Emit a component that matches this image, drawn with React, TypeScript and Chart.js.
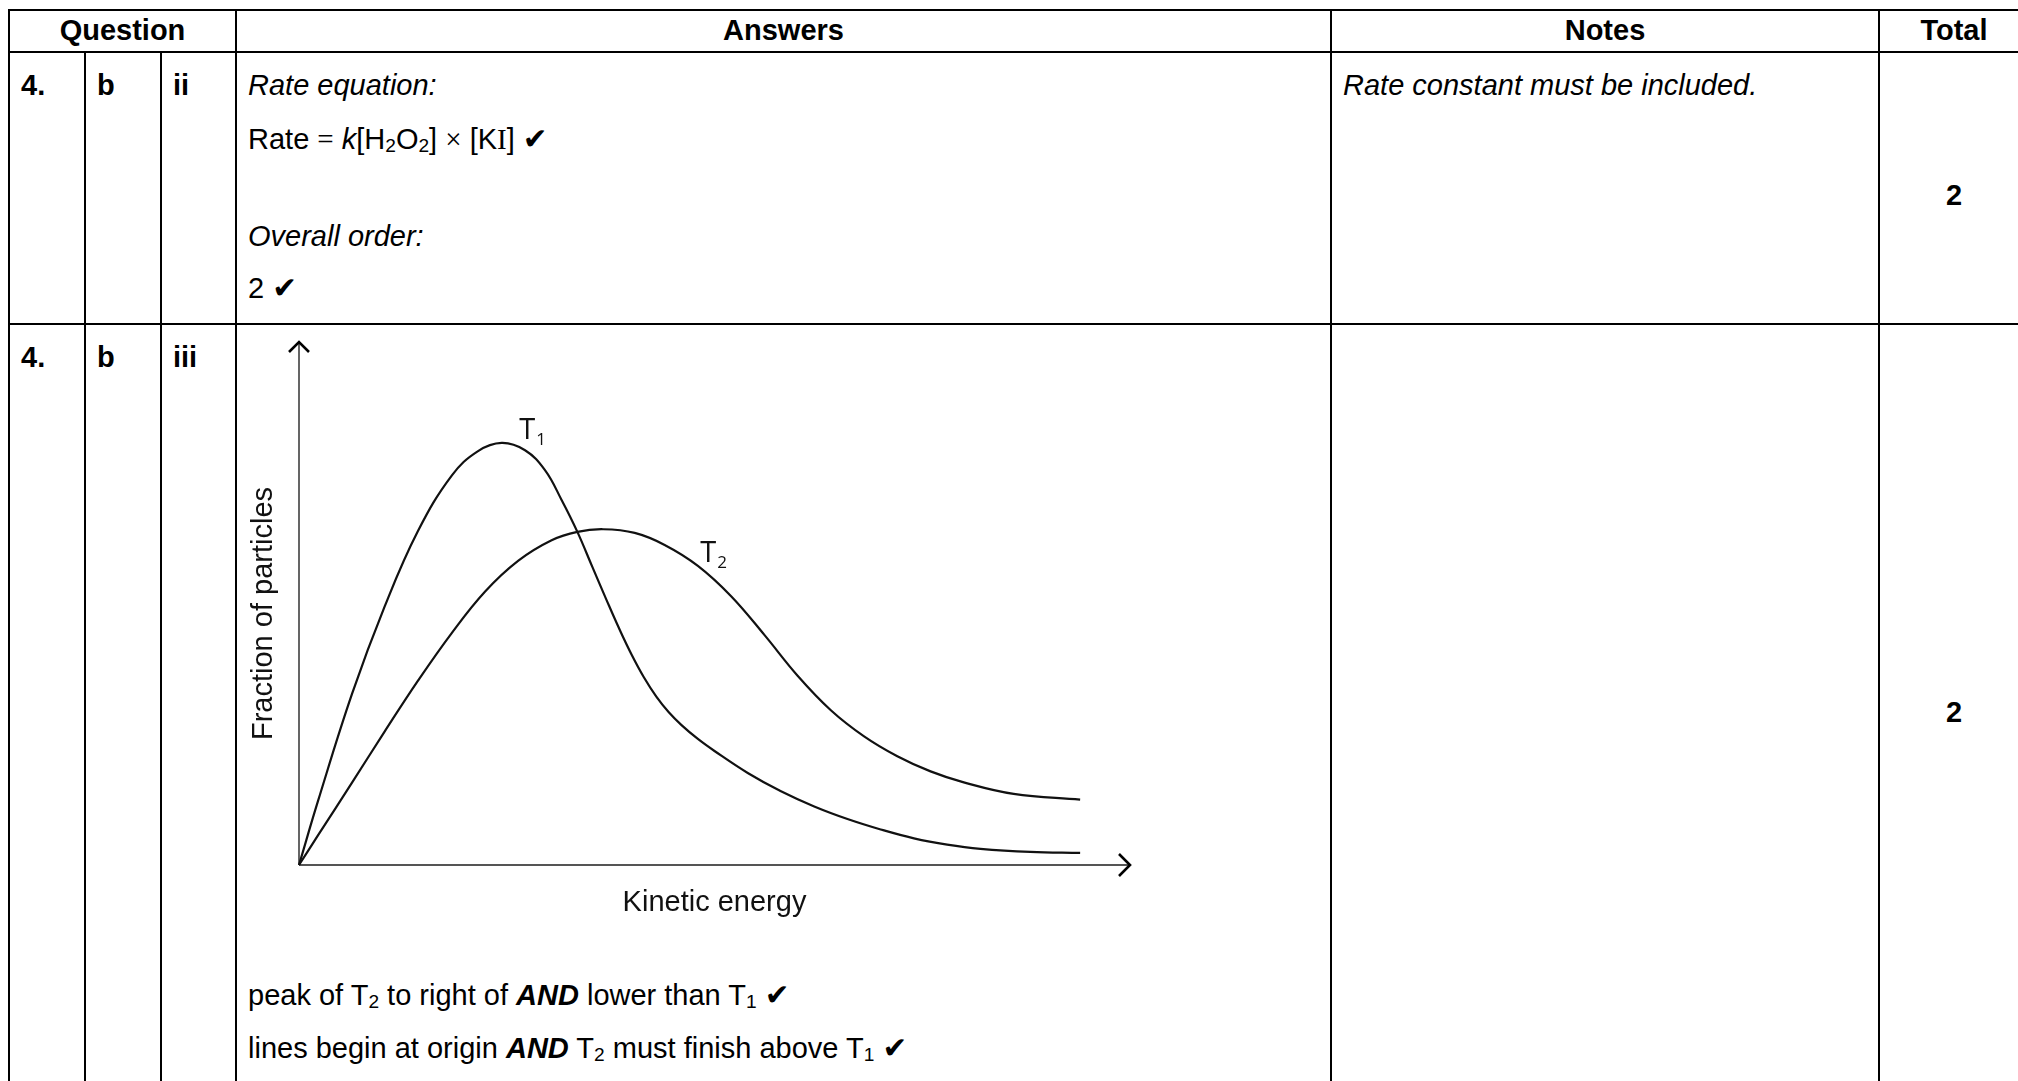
import React, { useEffect, useRef } from "react";
import { Chart, registerables } from "chart.js";

Chart.register(...registerables);

// ---------- chart data ----------
const SERIES_NAMES = ["T1", "T2"];
const KE_T1 = [0, 2.3, 6.4, 10.3, 14.3, 18.4, 21.5, 24.4, 27.2, 29.6, 31.6, 33.5, 35.3, 37, 38.5, 40, 41.5, 43, 44.5, 46, 48, 50, 54, 58, 62, 66, 70, 74, 78, 82, 88, 94];
const FRAC_T1 = [0, 12.3, 32.8, 49.4, 63.8, 74.5, 79.1, 80.7, 79.3, 75.5, 69.8, 63.7, 57.0, 50.7, 45.3, 40.3, 35.9, 32.2, 29.2, 26.8, 24.1, 21.8, 17.6, 14.1, 11.2, 8.8, 6.8, 5.1, 3.9, 3.1, 2.5, 2.3];
const KE_T2 = [0, 2.3, 6.4, 10.3, 14.3, 18.4, 22.4, 26.4, 30.4, 33.5, 36.6, 40.4, 44, 48, 52, 56, 60, 64, 68, 72, 76, 80, 86, 94];
const FRAC_T2 = [0, 5.7, 15.8, 25.5, 35.2, 44.4, 52.3, 58.2, 62.1, 63.7, 64.2, 63.5, 61.2, 57.2, 51.4, 44.0, 36.2, 29.6, 24.6, 20.8, 17.9, 15.8, 13.6, 12.5];
const X_RANGE = [0, 100];
const Y_RANGE = [0, 100];
const X_TITLE = "Kinetic energy";
const Y_TITLE = "Fraction of particles";

// ---------- table text ----------
const HEADERS = ["Question", "Answers", "Notes", "Total"];
const Q_PARTS = ["4.", "b"];
const SUB_PARTS = ["ii", "iii"];
const TOTALS = ["2", "2"];
const NOTE_1 = "Rate constant must be included.";

const SANS = '"Liberation Sans", Arial, Helvetica, sans-serif';
const SERIF = '"Liberation Serif", "Times New Roman", serif';
const CHECK_FONT = '"DejaVu Sans", sans-serif';
const LABEL_FONT = '"Open Sans", "Noto Sans", sans-serif';

// label anchors (data space) for curve names
const LABEL_ANCHORS = [
  { x: 26.5, y: 81.5 },
  { x: 48.3, y: 57.9 },
];

const decorPlugin = {
  id: "decor",
  beforeDatasetsDraw(chart: any) {
    const { ctx, scales } = chart;
    const xs = scales.x;
    const ys = scales.y;
    const x0 = xs.getPixelForValue(X_RANGE[0]);
    const x1 = xs.getPixelForValue(X_RANGE[1]);
    const y0 = ys.getPixelForValue(Y_RANGE[0]);
    const y1 = ys.getPixelForValue(Y_RANGE[1]);
    ctx.save();
    // axis lines
    ctx.strokeStyle = "#555";
    ctx.lineWidth = 1.8;
    ctx.beginPath();
    ctx.moveTo(x0, y0);
    ctx.lineTo(x1, y0);
    ctx.moveTo(x0, y0);
    ctx.lineTo(x0, y1);
    ctx.stroke();
    // arrow heads
    ctx.strokeStyle = "#000";
    ctx.lineWidth = 2.6;
    ctx.lineJoin = "miter";
    ctx.beginPath();
    ctx.moveTo(x1 - 11, y0 - 11);
    ctx.lineTo(x1, y0);
    ctx.lineTo(x1 - 11, y0 + 11);
    ctx.stroke();
    ctx.beginPath();
    ctx.moveTo(x0 - 10, y1 + 10);
    ctx.lineTo(x0, y1);
    ctx.lineTo(x0 + 10, y1 + 10);
    ctx.stroke();
    // axis titles
    ctx.fillStyle = "#111";
    ctx.font = "29px " + SANS;
    ctx.textAlign = "center";
    ctx.textBaseline = "middle";
    ctx.fillText(X_TITLE, (x0 + x1) / 2, y0 + 38);
    ctx.save();
    ctx.translate(x0 - 35, (y0 + y1) / 2 + 10);
    ctx.rotate(-Math.PI / 2);
    ctx.fillText(Y_TITLE, 0, 0);
    ctx.restore();
    ctx.restore();
  },
  afterDatasetsDraw(chart: any) {
    const { ctx, scales } = chart;
    ctx.save();
    ctx.fillStyle = "#111";
    ctx.textAlign = "left";
    ctx.textBaseline = "alphabetic";
    SERIES_NAMES.forEach((name, i) => {
      const px = scales.x.getPixelForValue(LABEL_ANCHORS[i].x);
      const py = scales.y.getPixelForValue(LABEL_ANCHORS[i].y);
      ctx.font = "29px " + LABEL_FONT;
      const base = name.charAt(0);
      ctx.fillText(base, px, py);
      const w = ctx.measureText(base).width;
      ctx.font = "17px " + LABEL_FONT;
      ctx.fillText(name.slice(1), px + w + 1, py + 6);
    });
    ctx.restore();
  },
};

function EnergyChart() {
  const ref = useRef<HTMLCanvasElement>(null);
  useEffect(() => {
    if (!ref.current) return;
    const lineStyle = {
      borderColor: "#111",
      borderWidth: 2.2,
      pointRadius: 0,
      tension: 0.4,
      fill: false,
      clip: false as any,
    };
    const chart = new Chart(ref.current, {
      type: "line",
      data: {
        datasets: [
          { label: SERIES_NAMES[0], data: KE_T1.map((x, i) => ({ x, y: FRAC_T1[i] })), ...lineStyle },
          { label: SERIES_NAMES[1], data: KE_T2.map((x, i) => ({ x, y: FRAC_T2[i] })), ...lineStyle },
        ],
      },
      options: {
        responsive: false,
        maintainAspectRatio: false,
        animation: false,
        devicePixelRatio: 1,
        events: [],
        layout: { padding: { left: 59, top: 12, right: 50, bottom: 85 } },
        scales: {
          x: { type: "linear", min: X_RANGE[0], max: X_RANGE[1], display: false },
          y: { type: "linear", min: Y_RANGE[0], max: Y_RANGE[1], display: false },
        },
        plugins: { legend: { display: false }, tooltip: { enabled: false }, title: { display: false } },
      },
      plugins: [decorPlugin],
    } as any);
    return () => chart.destroy();
  }, []);
  return (
    <canvas
      ref={ref}
      width={940}
      height={620}
      style={{ position: "absolute", left: 240, top: 330, width: 940, height: 620 }}
    />
  );
}

type TxtProps = {
  x: number;
  b: number;
  center?: boolean;
  bold?: boolean;
  italic?: boolean;
  size?: number;
  children: React.ReactNode;
};

function Txt({ x, b, center, bold, italic, size = 29, children }: TxtProps) {
  return (
    <div
      style={{
        position: "absolute",
        left: x,
        top: b - 0.8465 * size,
        fontSize: size,
        lineHeight: 1,
        whiteSpace: "nowrap",
        fontFamily: SANS,
        fontWeight: bold ? 700 : 400,
        fontStyle: italic ? "italic" : "normal",
        transform: center ? "translateX(-50%)" : undefined,
        color: "#000",
      }}
    >
      {children}
    </div>
  );
}

const Sub = ({ children }: { children: React.ReactNode }) => (
  <span style={{ fontSize: "0.66em", verticalAlign: "-0.16em", lineHeight: 1 }}>{children}</span>
);
const Check = () => (
  <span style={{ fontFamily: CHECK_FONT, fontWeight: 400, fontSize: "1.02em", fontStyle: "normal", lineHeight: 1 }}>✔</span>
);
const Serif = ({ children }: { children: React.ReactNode }) => (
  <span style={{ fontFamily: SERIF }}>{children}</span>
);

const LW = 2.5;
const HLine = ({ x1, x2, y }: { x1: number; x2: number; y: number }) => (
  <div style={{ position: "absolute", left: x1, top: y - LW / 2, width: x2 - x1, height: LW, background: "#000" }} />
);
const VLine = ({ x, y1, y2 }: { x: number; y1: number; y2: number }) => (
  <div style={{ position: "absolute", left: x - LW / 2, top: y1, width: LW, height: y2 - y1, background: "#000" }} />
);

export default function App() {
  useEffect(() => {
    document.body.style.margin = "0";
  }, []);
  const colQ = [9, 85, 161, 236];
  const colN = 1331;
  const colT = 1879;
  const colEnd = 2029;
  const yTop = 10;
  const yHead = 52;
  const yRow = 324;
  const yBottom = 1081;
  return (
    <div style={{ position: "fixed", left: 0, top: 0, width: 2018, height: 1081, background: "#fff", overflow: "hidden" }}>
      {/* grid lines */}
      <HLine x1={colQ[0] - 1} x2={colEnd} y={yTop} />
      <HLine x1={colQ[0] - 1} x2={colEnd} y={yHead} />
      <HLine x1={colQ[0] - 1} x2={colEnd} y={yRow} />
      <VLine x={colQ[0]} y1={yTop - 1} y2={yBottom} />
      <VLine x={colQ[1]} y1={yHead} y2={yBottom} />
      <VLine x={colQ[2]} y1={yHead} y2={yBottom} />
      <VLine x={colQ[3]} y1={yTop - 1} y2={yBottom} />
      <VLine x={colN} y1={yTop - 1} y2={yBottom} />
      <VLine x={colT} y1={yTop - 1} y2={yBottom} />

      {/* header */}
      <Txt x={(colQ[0] + colQ[3]) / 2} b={41} center bold>{HEADERS[0]}</Txt>
      <Txt x={(colQ[3] + colN) / 2} b={41} center bold>{HEADERS[1]}</Txt>
      <Txt x={(colN + colT) / 2} b={41} center bold>{HEADERS[2]}</Txt>
      <Txt x={(colT + colEnd) / 2} b={41} center bold>{HEADERS[3]}</Txt>

      {/* row 1 */}
      <Txt x={21} b={96} bold>{Q_PARTS[0]}</Txt>
      <Txt x={97} b={96} bold>{Q_PARTS[1]}</Txt>
      <Txt x={173} b={96} bold>{SUB_PARTS[0]}</Txt>
      <Txt x={248} b={96} italic>Rate equation:</Txt>
      <Txt x={248} b={150}>
        Rate <Serif>=</Serif> <i>k</i>[H<Sub>2</Sub>O<Sub>2</Sub>] <Serif>×</Serif> [K<Serif>I</Serif>] <Check />
      </Txt>
      <Txt x={248} b={247} italic>Overall order:</Txt>
      <Txt x={248} b={299}>
        2 <Check />
      </Txt>
      <Txt x={1343} b={96} italic>{NOTE_1}</Txt>
      <Txt x={(colT + colEnd) / 2} b={206} center bold>{TOTALS[0]}</Txt>

      {/* row 2 */}
      <Txt x={21} b={368} bold>{Q_PARTS[0]}</Txt>
      <Txt x={97} b={368} bold>{Q_PARTS[1]}</Txt>
      <Txt x={173} b={368} bold>{SUB_PARTS[1]}</Txt>
      <Txt x={(colT + colEnd) / 2} b={723} center bold>{TOTALS[1]}</Txt>
      <EnergyChart />
      <Txt x={248} b={1006}>
        peak of T<Sub>2</Sub> to right of <b><i>AND</i></b> lower than T<Sub>1</Sub> <Check />
      </Txt>
      <Txt x={248} b={1059}>
        lines begin at origin <b><i>AND</i></b> T<Sub>2</Sub> must finish above T<Sub>1</Sub> <Check />
      </Txt>
    </div>
  );
}
